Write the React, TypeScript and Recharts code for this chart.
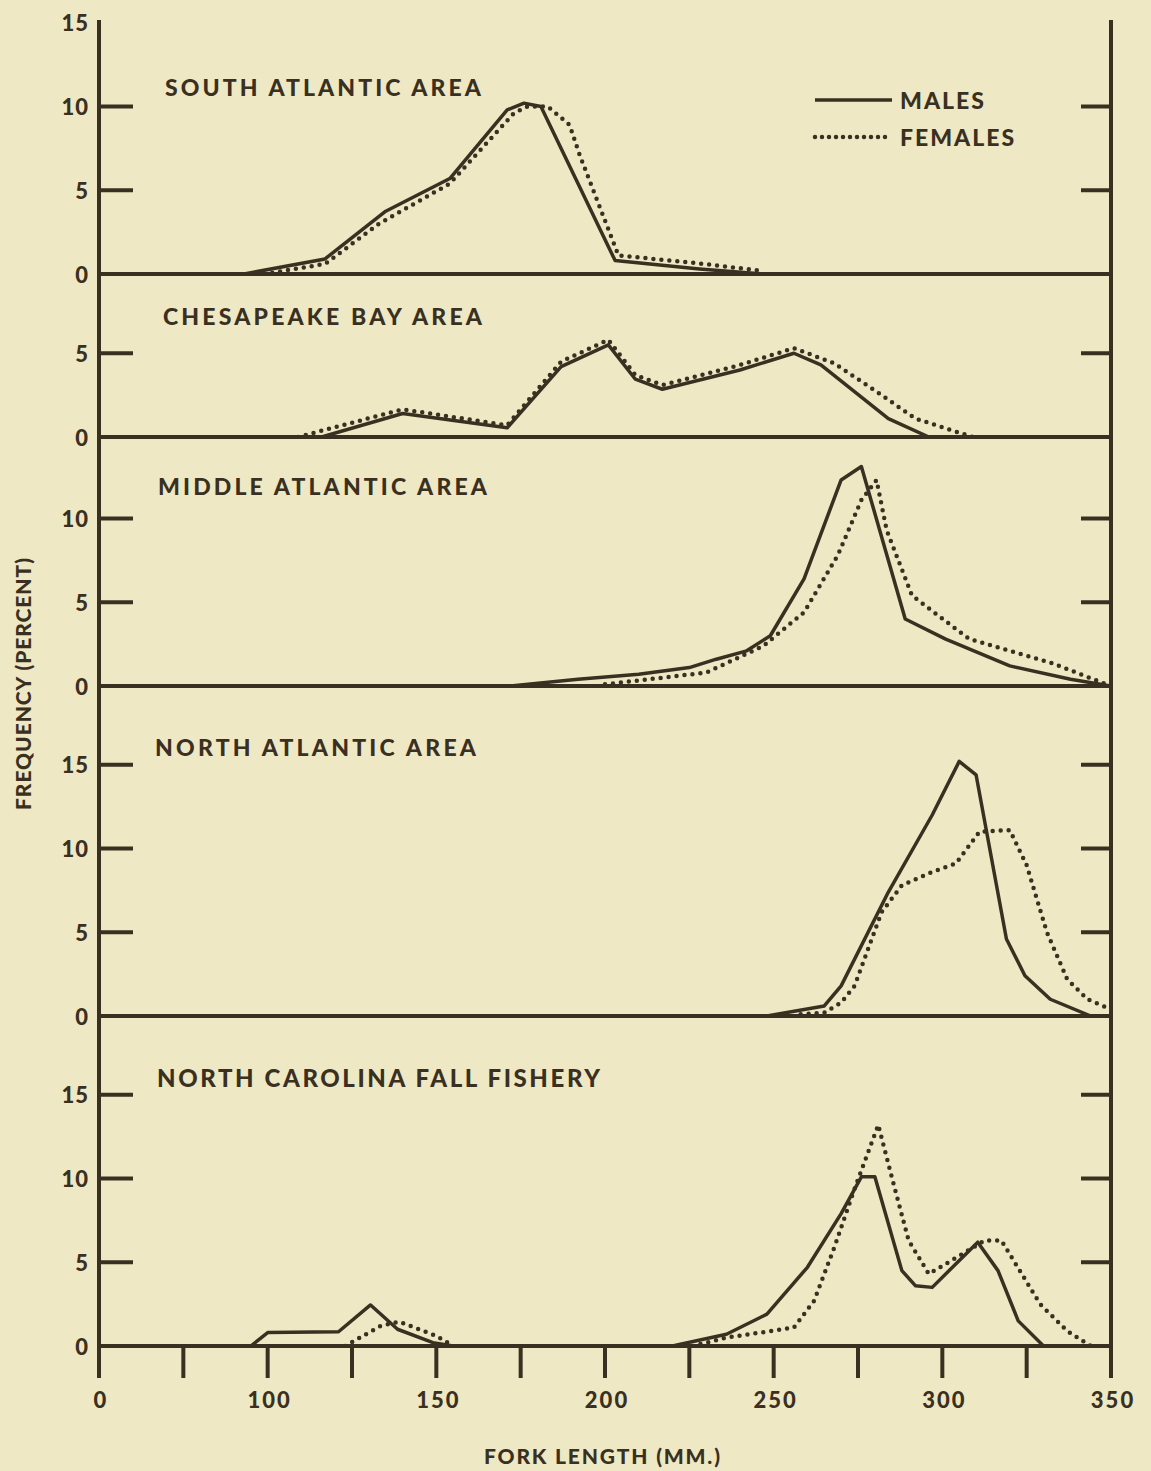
import React from 'react';
import { LineChart, Line, XAxis, YAxis, Legend } from 'recharts';

// ---------- data ----------
const X_TICKS = [50, 75, 100, 125, 150, 175, 200, 225, 250, 275, 300, 325, 350];
const X_TICK_LABELS = ['0', '', '100', '', '150', '', '200', '', '250', '', '300', '', '350'];
const X_TOP_TICKS = [75, 100, 125, 150, 175, 200, 225, 250, 275, 300, 325];

const TITLES = [
  'SOUTH ATLANTIC AREA',
  'CHESAPEAKE BAY AREA',
  'MIDDLE ATLANTIC AREA',
  'NORTH ATLANTIC AREA',
  'NORTH CAROLINA FALL FISHERY',
];
const Y_TICKS_LEFT = [[0, 5, 10, 15], [0, 5], [0, 5, 10], [0, 5, 10, 15], [0, 5, 10, 15]];
const Y_TICKS_RIGHT = [[5, 10], [5], [5, 10], [5, 10, 15], [5, 10, 15]];
const SERIES_NAMES = ['MALES', 'FEMALES'];

// South Atlantic
const SA_M_X = [93, 117, 135, 154, 171, 176, 181, 203, 228, 247];
const SA_M_Y = [0, 0.9, 3.75, 5.7, 9.8, 10.2, 10.0, 0.8, 0.3, 0];
const SA_F_X = [99, 117, 133, 154, 173, 177, 183, 189.5, 192.5, 204, 225, 246];
const SA_F_Y = [0, 0.6, 3.0, 5.4, 9.6, 10.0, 10.0, 8.9, 7.1, 1.1, 0.7, 0.2];

// Chesapeake Bay
const CB_M_X = [116, 140, 171, 187, 201, 209, 217, 240, 256, 264, 284, 296];
const CB_M_Y = [0, 1.4, 0.55, 4.2, 5.5, 3.45, 2.85, 4.0, 5.0, 4.3, 1.1, 0];
const CB_F_X = [109, 140, 171, 187, 201, 209, 217, 240, 256, 268, 282, 292, 309];
const CB_F_Y = [0, 1.65, 0.7, 4.5, 5.8, 3.7, 3.1, 4.3, 5.3, 4.4, 2.5, 1.1, 0];

// Middle Atlantic
const MA_M_X = [172, 192, 210, 225, 233, 242, 249, 259, 270, 276, 289, 301, 320, 338, 350];
const MA_M_Y = [0, 0.4, 0.7, 1.1, 1.6, 2.1, 3.0, 6.4, 12.3, 13.1, 4.0, 2.8, 1.2, 0.4, 0];
const MA_F_X = [200, 230, 247, 259, 269, 276, 280.5, 283.5, 291, 308, 332, 350];
const MA_F_Y = [0.1, 0.8, 2.4, 4.4, 7.8, 11.1, 12.3, 9.3, 5.4, 2.8, 1.4, 0];

// North Atlantic
const NA_M_X = [248, 265, 270, 284, 297, 305, 310, 319, 324.5, 332, 344];
const NA_M_Y = [0, 0.6, 1.8, 7.4, 12.0, 15.2, 14.4, 4.6, 2.4, 1.0, 0];
const NA_F_X = [258, 265, 270, 274, 282, 288, 297, 304, 311, 320, 325, 331, 337, 343, 350];
const NA_F_Y = [0.1, 0.2, 0.8, 1.8, 6.2, 7.8, 8.6, 9.1, 11.0, 11.1, 9.0, 5.0, 2.2, 1.0, 0.4];

// North Carolina fall fishery (null = gap between the two size groups)
const NC_M_X = [95, 100, 121, 130.5, 138.5, 149, 155, 190, 220, 236, 248, 260, 270, 276, 280, 288, 292, 297, 310.5, 316.5, 322.5, 330];
const NC_M_Y = [0, 0.8, 0.85, 2.45, 1.0, 0.2, 0, null, 0, 0.7, 1.9, 4.7, 7.9, 10.1, 10.1, 4.5, 3.6, 3.5, 6.2, 4.5, 1.5, 0];
const NC_F_X = [123, 133.5, 139, 150, 155, 190, 226, 236, 256, 262, 268, 274, 281, 285, 290, 296, 306, 312.5, 317.5, 329, 337, 344];
const NC_F_Y = [0, 1.2, 1.45, 0.6, 0, null, 0, 0.5, 1.1, 2.7, 5.9, 9.4, 13.2, 10.1, 6.3, 4.3, 5.5, 6.3, 6.3, 2.5, 0.9, 0];

const zip = (xs: number[], ys: (number | null)[]) => xs.map((x, i) => ({ x, y: ys[i] }));

const PANELS = [
  { m: zip(SA_M_X, SA_M_Y), f: zip(SA_F_X, SA_F_Y) },
  { m: zip(CB_M_X, CB_M_Y), f: zip(CB_F_X, CB_F_Y) },
  { m: zip(MA_M_X, MA_M_Y), f: zip(MA_F_X, MA_F_Y) },
  { m: zip(NA_M_X, NA_M_Y), f: zip(NA_F_X, NA_F_Y) },
  { m: zip(NC_M_X, NC_M_Y), f: zip(NC_F_X, NC_F_Y) },
];

// ---------- layout / style ----------
const W = 1151;
const H = 1471;
const INK = '#3a3021';
const BG = '#efe8c4';
const FONT = "Lato, 'Open Sans', 'DejaVu Sans', sans-serif";
const PLOT_L = 99;
const PLOT_R = 1111;
const TOP_Y = 22;
const ZERO_Y = [274, 437, 686, 1016, 1346];
const PX_PER_PCT = 16.75;
const MT = 30;
const XH = 90;
const YW = 40;
const DOT_DASH = '0 8';

const TITLE_POS = [
  { x: 165, y: 87, w: 316 },
  { x: 163, y: 316, w: 319 },
  { x: 158, y: 486, w: 329 },
  { x: 155, y: 747, w: 321 },
  { x: 157, y: 1077, w: 443 },
];

const textStyle = { fontFamily: FONT, fontWeight: 900, fill: INK } as const;

const LeftTick = (props: any) => {
  const { y, payload, ymax } = props;
  const v = payload.value;
  return (
    <g>
      {v > 0 && v < ymax - 1 && (
        <line x1={PLOT_L} x2={PLOT_L + 34} y1={y} y2={y} stroke={INK} strokeWidth={4} />
      )}
      <text x={PLOT_L - 10} y={y} textAnchor="end" dominantBaseline="central" fontSize={22} letterSpacing={1} {...textStyle}>
        {v}
      </text>
    </g>
  );
};

const RightTick = (props: any) => {
  const { y } = props;
  return <line x1={PLOT_R - 30} x2={PLOT_R} y1={y} y2={y} stroke={INK} strokeWidth={4} />;
};

const TopTick = (props: any) => {
  const { x, base } = props;
  return <line x1={x} x2={x} y1={base} y2={base + 30} stroke={INK} strokeWidth={4} />;
};

const BottomTick = (props: any) => {
  const { x, base, payload } = props;
  const i = X_TICKS.indexOf(payload.value);
  const label = i >= 0 ? X_TICK_LABELS[i] : '';
  return (
    <g>
      <line x1={x} x2={x} y1={base} y2={base + 32} stroke={INK} strokeWidth={4} />
      {label && (
        <text x={x + 2} y={base + 53} textAnchor="middle" dominantBaseline="central" fontSize={22} letterSpacing={2} {...textStyle}>
          {label}
        </text>
      )}
    </g>
  );
};

const LegendBox = () => {
  return (
    <svg width={230} height={70} style={{ overflow: 'visible' }}>
      {SERIES_NAMES.map((name, i) => {
        const ly = 15 + i * 37;
        const solid = name === 'MALES';
        return (
          <g key={name}>
            <line
              x1={5}
              x2={solid ? 82 : 80}
              y1={ly}
              y2={ly}
              stroke={INK}
              strokeWidth={solid ? 3.5 : 4.5}
              strokeDasharray={solid ? undefined : '0 7'}
              strokeLinecap={solid ? 'butt' : 'round'}
            />
            <text x={90} y={ly} dominantBaseline="central" fontSize={23} letterSpacing={2} {...textStyle}>
              {name}
            </text>
          </g>
        );
      })}
    </svg>
  );
};

function Panel({ idx }: { idx: number }) {
  const top = idx === 0 ? TOP_Y : ZERO_Y[idx - 1];
  const h = ZERO_Y[idx] - top;
  const ymax = h / PX_PER_PCT;
  const chartH = MT + h + XH;
  const isBottom = idx === 4;
  const isTop = idx === 0;
  const axisLine = { stroke: INK, strokeWidth: 4, strokeLinecap: 'square' as const };
  const p = PANELS[idx];
  return (
    <div style={{ position: 'absolute', left: 0, top: top - MT, width: W, height: chartH }}>
      <LineChart width={W} height={chartH} margin={{ top: MT, right: 0, bottom: 0, left: PLOT_L - YW }}>
        <XAxis
          xAxisId="b"
          type="number"
          dataKey="x"
          domain={[50, 350]}
          ticks={isBottom ? X_TICKS : []}
          interval={0}
          height={XH}
          allowDataOverflow
          axisLine={axisLine}
          tickLine={false}
          tick={isBottom ? (tp: any) => <BottomTick {...tp} base={MT + h} /> : false}
        />
        {isTop && (
          <XAxis
            xAxisId="t"
            orientation="top"
            type="number"
            dataKey="x"
            domain={[50, 350]}
            ticks={X_TOP_TICKS}
            interval={0}
            height={0}
            allowDataOverflow
            axisLine={axisLine}
            tickLine={false}
            tick={(tp: any) => <TopTick {...tp} base={MT} />}
          />
        )}
        <YAxis
          yAxisId="l"
          type="number"
          domain={[0, ymax]}
          ticks={Y_TICKS_LEFT[idx]}
          interval={0}
          width={YW}
          allowDataOverflow
          axisLine={axisLine}
          tickLine={false}
          tick={(tp: any) => <LeftTick {...tp} ymax={ymax} />}
        />
        <YAxis
          yAxisId="r"
          orientation="right"
          type="number"
          domain={[0, ymax]}
          ticks={Y_TICKS_RIGHT[idx]}
          interval={0}
          width={YW}
          allowDataOverflow
          axisLine={axisLine}
          tickLine={false}
          tick={(tp: any) => <RightTick {...tp} />}
        />
        <Line
          xAxisId="b"
          yAxisId="l"
          data={p.m}
          dataKey="y"
          name={SERIES_NAMES[0]}
          type="linear"
          stroke={INK}
          strokeWidth={3.5}
          strokeLinejoin="round"
          dot={false}
          activeDot={false}
          isAnimationActive={false}
        />
        <Line
          xAxisId="b"
          yAxisId="l"
          data={p.f}
          dataKey="y"
          name={SERIES_NAMES[1]}
          type="linear"
          stroke={INK}
          strokeWidth={4.5}
          strokeDasharray={DOT_DASH}
          strokeLinecap="round"
          dot={false}
          activeDot={false}
          isAnimationActive={false}
        />
        {isTop && (
          <Legend
            layout="vertical"
            align="center"
            verticalAlign="middle"
            wrapperStyle={{ position: 'absolute', left: 810, top: 85 - (TOP_Y - MT), width: 230, height: 70 }}
            content={() => <LegendBox />}
          />
        )}
      </LineChart>
    </div>
  );
}

export default function App() {
  return (
    <div style={{ position: 'absolute', left: 0, top: 0, width: W, height: H, background: BG, overflow: 'hidden' }}>
      {[0, 1, 2, 3, 4].map((i) => (
        <Panel key={i} idx={i} />
      ))}
      <svg width={W} height={H} style={{ position: 'absolute', left: 0, top: 0, pointerEvents: 'none' }}>
        {TITLES.map((t, i) => (
          <text
            key={t}
            x={TITLE_POS[i].x}
            y={TITLE_POS[i].y}
            dominantBaseline="central"
            fontSize={i === 4 ? 24 : 23}
            textLength={TITLE_POS[i].w}
            lengthAdjust="spacing"
            {...textStyle}
          >
            {t}
          </text>
        ))}
        <text
          x={22}
          y={684}
          transform="rotate(-90 22 684)"
          textAnchor="middle"
          dominantBaseline="central"
          fontSize={21}
          textLength={252}
          lengthAdjust="spacing"
          {...textStyle}
        >
          FREQUENCY (PERCENT)
        </text>
        <text
          x={602}
          y={1455}
          textAnchor="middle"
          dominantBaseline="central"
          fontSize={21}
          textLength={236}
          lengthAdjust="spacing"
          {...textStyle}
        >
          FORK LENGTH (MM.)
        </text>
      </svg>
    </div>
  );
}
